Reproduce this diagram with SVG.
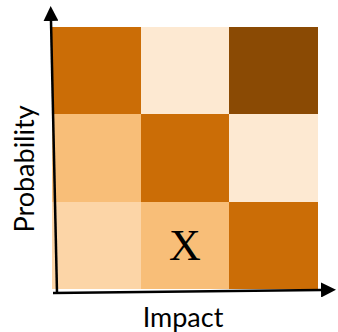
<svg xmlns="http://www.w3.org/2000/svg" width="338" height="332" viewBox="0 0 338 332">
<style>
.c1{fill:#CB6D06}.c2{fill:#FDE9D2}.c3{fill:#8A4A04}.c4{fill:#F8BE78}.c5{fill:#FCD5A7}
.ax{stroke:#000;stroke-width:2.5;fill:none}
.lbl{font-family:Lato,"Open Sans",sans-serif;font-size:27px;fill:#000}
</style>
<defs>
<marker id="ah" viewBox="0 0 10 10" refX="0" refY="5" markerWidth="6" markerHeight="6" markerUnits="strokeWidth" orient="auto">
<path d="M0,0 L10,5 L0,10 Z" fill="#000"/>
</marker>
</defs>
<g id="grid">
<rect class="c1" x="52" y="27" width="89" height="87"/>
<rect class="c2" x="141" y="27" width="88" height="87"/>
<rect class="c3" x="229" y="27" width="89" height="87"/>
<rect class="c4" x="52" y="114" width="89" height="88"/>
<rect class="c1" x="141" y="114" width="88" height="88"/>
<rect class="c2" x="229" y="114" width="89" height="88"/>
<rect class="c5" x="52" y="202" width="89" height="87"/>
<rect class="c4" x="141" y="202" width="88" height="87"/>
<rect class="c1" x="229" y="202" width="89" height="87"/>
</g>
<g id="connectors">
<line class="ax" x1="57" y1="293" x2="51" y2="21" marker-end="url(#ah)"/>
<line class="ax" x1="53" y1="293" x2="321" y2="290" marker-end="url(#ah)"/>
</g>
<g id="labels">
<text class="lbl" x="183" y="327" text-anchor="middle">Impact</text>
<text class="lbl" transform="translate(34,169) rotate(-90)" text-anchor="middle">Probability</text>
<text x="185" y="260" text-anchor="middle" font-family="Liberation Serif,serif" font-size="44">X</text>
</g>
</svg>
